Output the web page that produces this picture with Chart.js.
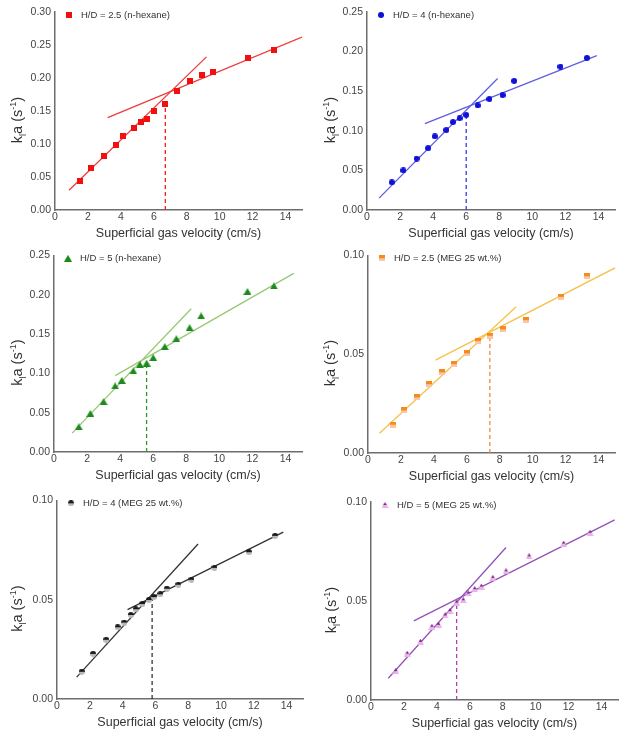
<!DOCTYPE html>
<html>
<head>
<meta charset="utf-8">
<script src="https://cdn.jsdelivr.net/npm/chart.js@4.4.1/dist/chart.umd.min.js"></script>
<style>
  body { margin: 0; background: #fff; }
  #wrap { position: relative; width: 629px; height: 740px; }
  canvas { position: absolute; }
</style>
</head>
<body>
<div id="wrap">
  <canvas id="c1" width="315" height="245" style="left:0;top:0"></canvas>
  <canvas id="c2" width="314" height="245" style="left:315px;top:0"></canvas>
  <canvas id="c3" width="315" height="245" style="left:0;top:245px"></canvas>
  <canvas id="c4" width="314" height="245" style="left:315px;top:245px"></canvas>
  <canvas id="c5" width="315" height="250" style="left:0;top:490px"></canvas>
  <canvas id="c6" width="314" height="250" style="left:315px;top:490px"></canvas>
</div>
<script>
// superficial gas velocity (cm/s) and kla (1/s)
const hex25Vel = [1.5, 2.2, 3.0, 3.7, 4.1, 4.8, 5.2, 5.6, 6.0, 6.7, 7.4, 8.2, 8.9, 9.6, 11.7, 13.3];
const hex25Kla = [0.044, 0.063, 0.082, 0.098, 0.112, 0.125, 0.133, 0.138, 0.150, 0.160, 0.181, 0.196, 0.205, 0.209, 0.231, 0.242];

const hex4Vel = [1.5, 2.2, 3.0, 3.7, 4.1, 4.8, 5.2, 5.6, 6.0, 6.7, 7.4, 8.2, 8.9, 11.7, 13.3];
const hex4Kla = [0.035, 0.050, 0.065, 0.078, 0.093, 0.101, 0.111, 0.116, 0.120, 0.132, 0.140, 0.145, 0.163, 0.181, 0.192];

const hex5Vel = [1.5, 2.2, 3.0, 3.7, 4.1, 4.8, 5.2, 5.6, 6.0, 6.7, 7.4, 8.2, 8.9, 11.7, 13.3];
const hex5Kla = [0.032, 0.049, 0.064, 0.084, 0.091, 0.103, 0.111, 0.113, 0.120, 0.134, 0.144, 0.158, 0.173, 0.204, 0.211];

const meg25Vel = [1.5, 2.2, 3.0, 3.7, 4.5, 5.2, 6.0, 6.7, 7.4, 8.2, 9.6, 11.7, 13.3];
const meg25Kla = [0.0143, 0.0215, 0.0281, 0.0348, 0.0408, 0.0449, 0.0504, 0.0566, 0.0593, 0.0625, 0.0672, 0.079, 0.0894];

const meg4Vel = [1.5, 2.2, 3.0, 3.7, 4.1, 4.5, 4.8, 5.2, 5.6, 5.9, 6.3, 6.7, 7.4, 8.2, 9.6, 11.7, 13.3];
const meg4Kla = [0.0137, 0.0227, 0.0298, 0.0361, 0.0385, 0.0423, 0.0452, 0.0478, 0.0498, 0.0513, 0.0527, 0.0555, 0.0575, 0.060, 0.066, 0.0739, 0.0821];

const meg5Vel = [1.5, 2.2, 3.0, 3.7, 4.1, 4.5, 4.8, 5.2, 5.6, 5.9, 6.3, 6.7, 7.4, 8.2, 9.6, 11.7, 13.3];
const meg5Kla = [0.0146, 0.0234, 0.0294, 0.037, 0.038, 0.0427, 0.0449, 0.0492, 0.0504, 0.0538, 0.056, 0.0573, 0.0617, 0.065, 0.0726, 0.079, 0.0845];

// fitted regimes: [x, y] end points of the two straight lines, and the transition velocity / kla
const hex25Steep = [[0.85, 0.030], [9.2, 0.232]];
const hex25Flat = [[3.2, 0.140], [15, 0.262]];
const hex25Trans = [6.7, 0.160];

const hex4Steep = [[0.73, 0.015], [7.9, 0.166]];
const hex4Flat = [[3.5, 0.109], [13.9, 0.195]];
const hex4Trans = [6.0, 0.120];

const hex5Steep = [[1.1, 0.024], [8.3, 0.182]];
const hex5Flat = [[3.7, 0.097], [14.5, 0.227]];
const hex5Trans = [5.6, 0.113];

const meg25Steep = [[0.7, 0.010], [9.0, 0.074]];
const meg25Flat = [[4.1, 0.047], [15, 0.0936]];
const meg25Trans = [7.4, 0.060];

const meg4Steep = [[1.2, 0.011], [8.6, 0.078]];
const meg4Flat = [[4.3, 0.045], [13.8, 0.084]];
const meg4Trans = [5.8, 0.0515];

const meg5Steep = [[1.05, 0.011], [8.2, 0.077]];
const meg5Flat = [[2.6, 0.040], [14.8, 0.091]];
const meg5Trans = [5.2, 0.049];

const yMaxHex = [0.30, 0.25];   // y max per n-hexane panel
const FONT = '"Liberation Sans", Arial, sans-serif';

// small two-tone marker sprites
function makeMarker(shape, w, h, top, bottom) {
  const c = document.createElement('canvas');
  c.width = w; c.height = h;
  const ctx = c.getContext('2d');
  ctx.beginPath();
  if (shape === 'rect') ctx.rect(0, 0, w, h);
  else if (shape === 'circle') ctx.arc(w / 2, h / 2, w / 2, 0, Math.PI * 2);
  else { ctx.moveTo(w / 2, 0); ctx.lineTo(w, h); ctx.lineTo(0, h); ctx.closePath(); }
  ctx.clip();
  ctx.fillStyle = top; ctx.fillRect(0, 0, w, h / 2 + 0.5);
  ctx.fillStyle = bottom; ctx.fillRect(0, h / 2, w, h / 2);
  return c;
}

const pts = (xs, ys) => xs.map((x, i) => ({ x: x, y: ys[i] }));
const seg = (arr) => arr.map(([x, y]) => ({ x: x, y: y }));

function buildPanel(id, p) {
  const area = p.area;
  const canvas = document.getElementById(id);

  const decor = {
    id: 'decor',
    afterDraw(chart) {
      const { ctx, chartArea } = chart;
      // y title: k_l a (s^-1)
      const parts = [['k', 0, 14.5], ['l', 4, 9], ['a (s', 0, 14.5], ['-1', -6, 9], [')', 0, 14.5]];
      ctx.save();
      ctx.fillStyle = '#333';
      ctx.translate(p.titleX, (chartArea.top + chartArea.bottom) / 2 + 9);
      ctx.rotate(-Math.PI / 2);
      ctx.textBaseline = 'alphabetic';
      let total = 0;
      parts.forEach(([t, , s]) => { ctx.font = s + 'px ' + FONT; total += ctx.measureText(t).width; });
      let x = -total / 2;
      parts.forEach(([t, dy, s]) => {
        ctx.font = s + 'px ' + FONT;
        ctx.fillText(t, x, 5 + dy);
        x += ctx.measureText(t).width;
      });
      ctx.restore();

      // legend inside plot area
      ctx.save();
      const ly = chartArea.top + 3;
      ctx.drawImage(p.marker, chartArea.left + 14 - p.marker.width / 2, ly - p.marker.height / 2);
      ctx.font = '9.5px ' + FONT;
      ctx.fillStyle = '#333';
      ctx.textBaseline = 'middle';
      ctx.fillText(p.label, chartArea.left + 26, ly);
      ctx.restore();
    }
  };

  new Chart(canvas, {
    type: 'scatter',
    data: {
      datasets: [
        {
          label: p.label,
          data: pts(p.vel, p.kla),
          pointStyle: p.marker,
          pointRadius: 3,
          showLine: false,
        },
        {
          data: seg(p.steep),
          showLine: true,
          borderColor: p.line,
          borderWidth: 1.3,
          pointRadius: 0,
        },
        {
          data: seg(p.flat),
          showLine: true,
          borderColor: p.line,
          borderWidth: 1.3,
          pointRadius: 0,
        },
        {
          data: [{ x: p.trans[0], y: 0 }, { x: p.trans[0], y: p.trans[1] }],
          showLine: true,
          borderColor: p.dash,
          borderWidth: 1.3,
          borderDash: [4, 3],
          pointRadius: 0,
        },
      ],
    },
    options: {
      responsive: false,
      animation: false,
      devicePixelRatio: 1,
      layout: {
        padding: {
          left: 0,
          top: area.t,
          right: canvas.width - area.r,
          bottom: canvas.height - area.b - 31,
        },
      },
      scales: {
        x: {
          type: 'linear',
          min: 0,
          max: 15,
          afterFit: (s) => { s.height = 31; },
          grid: { display: false, drawTicks: false },
          border: { display: true, color: '#6d6d6d', width: 1.5 },
          ticks: {
            stepSize: 2,
            includeBounds: false,
            padding: 1,
            color: '#444',
            font: { family: FONT, size: 10.5 },
          },
          title: {
            display: true,
            text: 'Superficial gas velocity (cm/s)',
            color: '#333',
            padding: 0,
            font: { family: FONT, size: 12.5 },
          },
        },
        y: {
          min: 0,
          max: p.ymax,
          afterFit: (s) => { s.width = area.l; },
          grid: { display: false, drawTicks: false },
          border: { display: true, color: '#6d6d6d', width: 1.5 },
          ticks: {
            stepSize: 0.05,
            padding: 4,
            color: '#444',
            font: { family: FONT, size: 10.5 },
            callback: (v) => v.toFixed(2),
          },
        },
      },
      plugins: {
        legend: { display: false },
        tooltip: { enabled: false },
      },
    },
    plugins: [decor],
  });
}

const panels = [
  { id: 'c1', label: 'H/D = 2.5 (n-hexane)', vel: hex25Vel, kla: hex25Kla, steep: hex25Steep, flat: hex25Flat, trans: hex25Trans,
    ymax: yMaxHex[0], marker: makeMarker('rect', 6, 6, '#f01010', '#f01010'), line: '#ee3b3b', dash: '#ee2020',
    area: { l: 55, r: 302, t: 12, b: 210 }, titleX: 17 },
  { id: 'c2', label: 'H/D = 4 (n-hexane)', vel: hex4Vel, kla: hex4Kla, steep: hex4Steep, flat: hex4Flat, trans: hex4Trans,
    ymax: yMaxHex[1], marker: makeMarker('circle', 6, 6, '#1010d8', '#1010d8'), line: '#5e5ee0', dash: '#3a3ae0',
    area: { l: 52, r: 300, t: 12, b: 210 }, titleX: 15 },
  { id: 'c3', label: 'H/D = 5 (n-hexane)', vel: hex5Vel, kla: hex5Kla, steep: hex5Steep, flat: hex5Flat, trans: hex5Trans,
    ymax: yMaxHex[1], marker: makeMarker('tri', 8, 7, '#1c8a1c', '#1c8a1c'), line: '#98c874', dash: '#2a9a2a',
    area: { l: 54, r: 302, t: 7, b: 207 }, titleX: 17 },
  { id: 'c4', label: 'H/D = 2.5 (MEG 25 wt.%)', vel: meg25Vel, kla: meg25Kla, steep: meg25Steep, flat: meg25Flat, trans: meg25Trans,
    ymax: 0.10, marker: makeMarker('rect', 6, 6, '#f58a1f', '#fbc6a6'), line: '#f5c24a', dash: '#f28a35',
    area: { l: 53, r: 300, t: 10, b: 208 }, titleX: 15 },
  { id: 'c5', label: 'H/D = 4 (MEG 25 wt.%)', vel: meg4Vel, kla: meg4Kla, steep: meg4Steep, flat: meg4Flat, trans: meg4Trans,
    ymax: 0.10, marker: makeMarker('circle', 6, 6, '#1a1a1a', '#b8b8b8'), line: '#333', dash: '#333',
    area: { l: 57, r: 303, t: 10, b: 209 }, titleX: 17 },
  { id: 'c6', label: 'H/D = 5 (MEG 25 wt.%)', vel: meg5Vel, kla: meg5Kla, steep: meg5Steep, flat: meg5Flat, trans: meg5Trans,
    ymax: 0.10, marker: makeMarker('tri', 7, 6, '#7a1d86', '#eab2e8'), line: '#9552b8', dash: '#b040b0',
    area: { l: 56, r: 303, t: 12, b: 210 }, titleX: 16 },
];

panels.forEach((p) => buildPanel(p.id, p));
</script>
</body>
</html>
